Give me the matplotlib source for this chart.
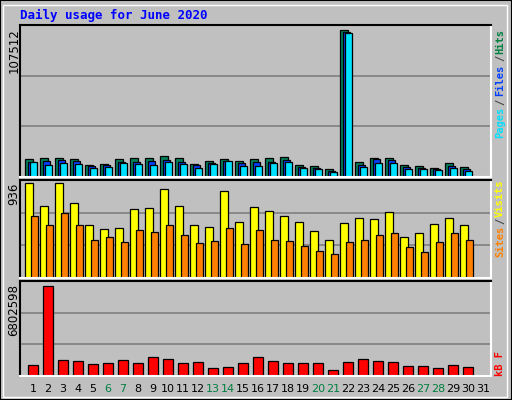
import numpy as np
import matplotlib
matplotlib.use("Agg")
import matplotlib.pyplot as plt
from matplotlib.patches import Rectangle

days = np.arange(1, 31)
all_days = np.arange(1, 32)
weekend = [6, 7, 13, 14, 20, 21, 27, 28]

# values
hits = [12980, 13690, 13690, 12980, 8730, 9440, 12980, 13690, 13690, 15100, 13690, 9440, 11560,
        12980, 11560, 12980, 13690, 14400, 8730, 8020, 5900, 104300, 10860, 13690, 13690, 8730,
        8020, 6610, 10150, 7320]
files = [10860, 11560, 12270, 11560, 8020, 8730, 10860, 10860, 11560, 12270, 10860, 8730, 10150,
         11560, 10150, 10860, 10860, 12270, 7320, 6610, 4480, 102900, 8730, 12980, 12270, 7320,
         6610, 5900, 8020, 5900]
pages = [10860, 8730, 10150, 9440, 6610, 7320, 10150, 9440, 8730, 10860, 9440, 6610, 9440,
         11560, 8020, 8020, 10150, 10860, 6610, 5900, 3780, 101500, 7320, 10150, 10150, 5900,
         5900, 5190, 6610, 4480]
visits = [909, 692, 909, 712, 505, 466, 476, 663, 673, 850, 692, 505, 486, 830, 535, 682,
          643, 594, 535, 446, 367, 525, 574, 564, 633, 387, 427, 515, 574, 505]
sites = [590, 502, 623, 505, 367, 387, 348, 456, 436, 502, 407, 338, 358, 476, 328, 456,
         367, 358, 308, 259, 230, 348, 367, 407, 427, 299, 249, 348, 427, 367]
kbytes = [826000, 6658000, 1191000, 1118000, 899000, 972000, 1191000, 972000, 1409000, 1264000,
          972000, 1045000, 608000, 680000, 972000, 1409000, 1118000, 972000, 972000, 972000,
          462000, 1045000, 1264000, 1118000, 1045000, 753000, 753000, 608000, 826000, 680000]

BG = "#C0C0C0"
W, H = 512, 400
fig = plt.figure(figsize=(W / 100, H / 100), dpi=100, facecolor=BG)

def frac(x0, y0, x1, y1):
    return [x0 / W, 1 - y1 / H, (x1 - x0) / W, (y1 - y0) / H]

# outer frame
fig.patches.append(Rectangle((0, 0), 1, 1, transform=fig.transFigure, fill=False,
                             edgecolor="black", linewidth=1.5))
fig.patches.append(Rectangle((3 / W, 3 / H), 1 - 8 / W, 1 - 8 / H, transform=fig.transFigure,
                             fill=False, edgecolor="white", linewidth=1))

def panel(box, ymax, label):
    ax = fig.add_axes(frac(*box))
    ax.set_facecolor(BG)
    ax.set_xlim(0.133, 31.53)
    ax.set_ylim(0, ymax)
    for y in (ymax / 3, 2 * ymax / 3):
        ax.axhline(y, color="#808080", linewidth=1.2, zorder=0)
    ax.set_xticks([]); ax.set_yticks([])
    ax.spines["top"].set_color("black"); ax.spines["left"].set_color("black")
    ax.spines["bottom"].set_color("white"); ax.spines["right"].set_color("white")
    for s in ax.spines.values():
        s.set_linewidth(1.5)
    fig.text(14 / W, 1 - (box[1] + 3) / H, label, rotation=90, ha="center", va="top",
             fontsize=8.5, family="DejaVu Sans")
    return ax

bar_kw = dict(edgecolor="black", linewidth=0.9)

ax1 = panel((20, 25, 491, 177), 107512 * 1.0, "107512")
ax1.bar(days - 0.267, hits, 0.533, color="#00805C", **bar_kw)
ax1.bar(days - 0.1, files, 0.5, color="#0040FF", **bar_kw)
ax1.bar(days + 0.05, pages, 0.47, color="#00E0FF", **bar_kw)

ax2 = panel((20, 180, 491, 278), 936 * 1.0, "936")
ax2.bar(days - 0.25, visits, 0.55, color="#FFFF00", **bar_kw)
ax2.bar(days + 0.1, sites, 0.49, color="#FF8000", **bar_kw)

ax3 = panel((20, 281, 491, 376), 6802598 * 1.03, "6802598")
ax3.bar(days + 0.01, kbytes, 0.69, color="#FF0000", **bar_kw)

fig.text(20 / W, 1 - 15 / H, "Daily usage for June 2020", color="#0000FF", fontsize=9,
         family="DejaVu Sans Mono", weight="bold", va="center")

mono = dict(rotation=90, ha="center", fontsize=7.5, family="DejaVu Sans Mono", weight="bold")
x_r = 500 / W
for txt, col, ytop in [("Hits", "#008040", 29), ("/", "#404040", 55), ("Files", "#0040FF", 65),
                       ("/", "#404040", 99), ("Pages", "#00E0FF", 107)]:
    fig.text(x_r, 1 - ytop / H, txt, color=col, va="top", **mono)
for txt, col, ytop in [("Visits", "#FFFF00", 180), ("/", "#404040", 218), ("Sites", "#FF8000", 226)]:
    fig.text(x_r, 1 - ytop / H, txt, color=col, va="top", **mono)
fig.text(x_r, 1 - 376 / H, "kB F", color="#FF0000", va="bottom", **mono)

for d in all_days:
    px = 18 + 15 * d
    fig.text(px / W, 1 - 389 / H, str(d), ha="center", va="center", fontsize=8,
             color="#008040" if d in weekend else "black")

fig.savefig("out.png", dpi=100, facecolor=BG)
